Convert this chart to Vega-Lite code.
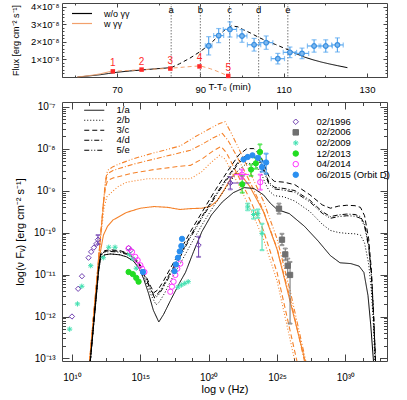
{
"$schema":"https://vega.github.io/schema/vega-lite/v6.json",
"padding":{"left":10,"top":1,"right":0,"bottom":0},
"background":"white",
"bounds":"flush",
"spacing":25,
"resolve":{"scale":{"color":"independent","strokeDash":"independent","fill":"independent","shape":"independent","stroke":"independent"},"legend":{"color":"independent","strokeDash":"independent","fill":"independent","shape":"independent","stroke":"independent"}},
"config":{
 "font":"Liberation Sans",
 "view":{"stroke":"#444","strokeWidth":1},
 "axis":{"grid":false,"domain":false,"labelFont":"Liberation Sans","titleFont":"Liberation Sans","labelFontSize":9.5,"titleFontSize":10.5,"titleFontWeight":"normal","labelColor":"black","titleColor":"black","tickColor":"#444","labelOverlap":false,"labelFlush":false,"labelBound":false},
 "legend":{"labelFont":"Liberation Sans","labelFontSize":9.5,"labelColor":"black","padding":0}
},
"datasets":{
"top_models":[
{"c":"w/o γγ","part":"b1","interp":"fit","T":60.5,"F":0},{"c":"w/o γγ","part":"b1","interp":"fit","T":62,"F":3e-10},{"c":"w/o γγ","part":"b1","interp":"fit","T":64,"F":8e-10},{"c":"w/o γγ","part":"b1","interp":"fit","T":66,"F":1.3e-9},{"c":"w/o γγ","part":"b1","interp":"fit","T":68,"F":2e-9},{"c":"w/o γγ","part":"b1","interp":"fit","T":70,"F":2.7e-9},{"c":"w/o γγ","part":"b1","interp":"fit","T":73,"F":3.4e-9},{"c":"w/o γγ","part":"b1","interp":"fit","T":76,"F":4e-9},{"c":"w/o γγ","part":"b1","interp":"fit","T":79,"F":4.6e-9},{"c":"w/o γγ","part":"b1","interp":"fit","T":83,"F":5.3e-9},
{"c":"w/o γγ","part":"b2","interp":"gap","T":83,"F":5.3e-9},{"c":"w/o γγ","part":"b2","interp":"gap","T":85,"F":7.5e-9},{"c":"w/o γγ","part":"b2","interp":"gap","T":87.5,"F":1.07e-8},{"c":"w/o γγ","part":"b2","interp":"gap","T":90,"F":1.45e-8},{"c":"w/o γγ","part":"b2","interp":"gap","T":92,"F":1.8e-8},{"c":"w/o γγ","part":"b2","interp":"gap","T":94,"F":2.25e-8},{"c":"w/o γγ","part":"b2","interp":"gap","T":96,"F":2.7e-8},{"c":"w/o γγ","part":"b2","interp":"gap","T":97.5,"F":2.9e-8},{"c":"w/o γγ","part":"b2","interp":"gap","T":99,"F":2.85e-8},{"c":"w/o γγ","part":"b2","interp":"gap","T":100,"F":2.72e-8},{"c":"w/o γγ","part":"b2","interp":"gap","T":102,"F":2.5e-8},{"c":"w/o γγ","part":"b2","interp":"gap","T":104,"F":2.25e-8},{"c":"w/o γγ","part":"b2","interp":"gap","T":106,"F":2.03e-8},{"c":"w/o γγ","part":"b2","interp":"gap","T":108,"F":1.85e-8},{"c":"w/o γγ","part":"b2","interp":"gap","T":111,"F":1.55e-8},
{"c":"w/o γγ","part":"b3","interp":"fit","T":111,"F":1.55e-8},{"c":"w/o γγ","part":"b3","interp":"fit","T":113,"F":1.32e-8},{"c":"w/o γγ","part":"b3","interp":"fit","T":115,"F":1.13e-8},{"c":"w/o γγ","part":"b3","interp":"fit","T":117,"F":9.8e-9},{"c":"w/o γγ","part":"b3","interp":"fit","T":119,"F":8.5e-9},{"c":"w/o γγ","part":"b3","interp":"fit","T":121,"F":7.4e-9},{"c":"w/o γγ","part":"b3","interp":"fit","T":123,"F":6.4e-9},{"c":"w/o γγ","part":"b3","interp":"fit","T":125.3,"F":5.3e-9},
{"c":"w γγ","part":"o1","interp":"fit","T":60.5,"F":0},{"c":"w γγ","part":"o1","interp":"fit","T":62,"F":4e-10},{"c":"w γγ","part":"o1","interp":"fit","T":64,"F":1e-9},{"c":"w γγ","part":"o1","interp":"fit","T":66,"F":1.8e-9},{"c":"w γγ","part":"o1","interp":"fit","T":68.5,"F":3.2e-9},
{"c":"w γγ","part":"o2","interp":"gap","T":68.5,"F":3.2e-9},{"c":"w γγ","part":"o2","interp":"gap","T":72,"F":3.6e-9},{"c":"w γγ","part":"o2","interp":"gap","T":76,"F":4.2e-9},{"c":"w γγ","part":"o2","interp":"gap","T":80,"F":4.6e-9},{"c":"w γγ","part":"o2","interp":"gap","T":83,"F":5e-9},{"c":"w γγ","part":"o2","interp":"gap","T":86,"F":5.6e-9},{"c":"w γγ","part":"o2","interp":"gap","T":88,"F":6e-9},{"c":"w γγ","part":"o2","interp":"gap","T":90,"F":6.3e-9},{"c":"w γγ","part":"o2","interp":"gap","T":92.4,"F":4.7e-9},{"c":"w γγ","part":"o2","interp":"gap","T":94,"F":3.3e-9},{"c":"w γγ","part":"o2","interp":"gap","T":96,"F":1.3e-9},{"c":"w γγ","part":"o2","interp":"gap","T":97,"F":2e-10}
],
"top_obs":[
{"T":92.0,"F":1.77e-8,"Flo":1.25e-8,"Fhi":2.29e-8,"Tlo":91.2,"Thi":92.8},
{"T":94.4,"F":2.35e-8,"Flo":1.95e-8,"Fhi":2.75e-8,"Tlo":93.2,"Thi":95.6},
{"T":97.1,"F":2.7e-8,"Flo":2.27e-8,"Fhi":3.13e-8,"Tlo":95.5,"Thi":98.7},
{"T":100.0,"F":2.33e-8,"Flo":1.97e-8,"Fhi":2.69e-8,"Tlo":98.8,"Thi":101.2},
{"T":102.9,"F":1.83e-8,"Flo":1.47e-8,"Fhi":2.19e-8,"Tlo":101.3,"Thi":104.5},
{"T":105.8,"F":1.95e-8,"Flo":1.57e-8,"Fhi":2.33e-8,"Tlo":104.2,"Thi":107.4},
{"T":108.6,"F":1.04e-8,"Flo":7.4e-9,"Fhi":1.34e-8,"Tlo":107.0,"Thi":110.2},
{"T":111.5,"F":1.4e-8,"Flo":1.1e-8,"Fhi":1.7e-8,"Tlo":109.9,"Thi":113.1},
{"T":114.4,"F":1.34e-8,"Flo":1.04e-8,"Fhi":1.64e-8,"Tlo":112.8,"Thi":116.0},
{"T":117.3,"F":1.76e-8,"Flo":1.41e-8,"Fhi":2.11e-8,"Tlo":115.7,"Thi":118.9},
{"T":120.1,"F":1.76e-8,"Flo":1.41e-8,"Fhi":2.11e-8,"Tlo":118.5,"Thi":121.7},
{"T":122.9,"F":1.82e-8,"Flo":1.42e-8,"Fhi":2.22e-8,"Tlo":121.5,"Thi":124.3}
],
"top_red":[
{"n":"1","T":69.0,"F":3.2e-9},{"n":"2","T":75.9,"F":4.2e-9},{"n":"3","T":82.8,"F":4.8e-9},{"n":"4","T":89.8,"F":6.0e-9},{"n":"5","T":96.7,"F":6e-10}
],
"epochs":[
{"id":"a","T":83},{"id":"b","T":90},{"id":"c","T":97},{"id":"d","T":104},{"id":"e","T":111}
],
"sed_obs":[
{"d":"02/1996","lognu":10.0,"logF":-12.0},{"d":"02/1996","lognu":10.45,"logF":-11.34},{"d":"02/1996","lognu":10.73,"logF":-11.04},{"d":"02/1996","lognu":11.21,"logF":-10.6},{"d":"02/1996","lognu":11.4,"logF":-10.46},{"d":"02/1996","lognu":11.6,"logF":-10.36},{"d":"02/1996","lognu":11.78,"logF":-10.27},{"d":"02/1996","lognu":11.9,"logF":-10.17,"lo":-10.28,"hi":-10.06},{"d":"02/1996","lognu":14.14,"logF":-10.37},{"d":"02/1996","lognu":14.3,"logF":-10.42},{"d":"02/1996","lognu":19.26,"logF":-10.3,"lo":-10.58,"hi":-10.1},{"d":"02/1996","lognu":21.58,"logF":-8.82,"lo":-8.97,"hi":-8.68,"xlo":21.58,"xhi":23.0},
{"d":"02/2006","lognu":25.14,"logF":-9.43,"lo":-9.55,"hi":-9.31},{"d":"02/2006","lognu":25.36,"logF":-10.17,"lo":-10.3,"hi":-10.03},{"d":"02/2006","lognu":25.6,"logF":-10.52,"lo":-10.66,"hi":-10.38},{"d":"02/2006","lognu":25.78,"logF":-10.79,"lo":-11.0,"hi":-10.62},{"d":"02/2006","lognu":25.95,"logF":-11.01,"lo":-12.17,"hi":-10.7},
{"d":"02/2009","lognu":9.83,"logF":-12.3},{"d":"02/2009","lognu":10.4,"logF":-11.7},{"d":"02/2009","lognu":10.72,"logF":-11.28},{"d":"02/2009","lognu":11.37,"logF":-10.79},{"d":"02/2009","lognu":12.29,"logF":-10.6},{"d":"02/2009","lognu":12.69,"logF":-10.35},{"d":"02/2009","lognu":13.15,"logF":-10.35},{"d":"02/2009","lognu":14.2,"logF":-10.52},{"d":"02/2009","lognu":14.45,"logF":-10.62},{"d":"02/2009","lognu":14.7,"logF":-10.85},{"d":"02/2009","lognu":17.75,"logF":-11.3},{"d":"02/2009","lognu":18.0,"logF":-11.25},{"d":"02/2009","lognu":18.25,"logF":-11.21},{"d":"02/2009","lognu":18.5,"logF":-11.17},{"d":"02/2009","lognu":22.85,"logF":-9.39,"lo":-9.47,"hi":-9.31},{"d":"02/2009","lognu":23.28,"logF":-9.57,"lo":-9.67,"hi":-9.47},{"d":"02/2009","lognu":23.6,"logF":-9.55,"lo":-9.65,"hi":-9.45},{"d":"02/2009","lognu":23.9,"logF":-10.02,"lo":-10.42,"hi":-9.79},
{"d":"12/2013","lognu":14.14,"logF":-10.94},{"d":"12/2013","lognu":14.45,"logF":-10.99},{"d":"12/2013","lognu":14.7,"logF":-11.08},{"d":"12/2013","lognu":14.87,"logF":-11.17},{"d":"12/2013","lognu":22.45,"logF":-8.85,"lo":-9.05,"hi":-8.65},{"d":"12/2013","lognu":23.1,"logF":-8.5,"lo":-8.65,"hi":-8.38},{"d":"12/2013","lognu":23.45,"logF":-8.35,"lo":-8.48,"hi":-8.22},{"d":"12/2013","lognu":23.75,"logF":-8.08,"lo":-8.25,"hi":-7.9},
{"d":"04/2014","lognu":14.14,"logF":-10.38},{"d":"04/2014","lognu":14.39,"logF":-10.46},{"d":"04/2014","lognu":14.63,"logF":-10.58},{"d":"04/2014","lognu":14.8,"logF":-10.66},{"d":"04/2014","lognu":15.0,"logF":-10.78},{"d":"04/2014","lognu":15.12,"logF":-10.86},{"d":"04/2014","lognu":15.3,"logF":-10.94},{"d":"04/2014","lognu":17.19,"logF":-11.41},{"d":"04/2014","lognu":17.31,"logF":-11.29},{"d":"04/2014","lognu":17.43,"logF":-11.17},{"d":"04/2014","lognu":17.56,"logF":-11.01},{"d":"04/2014","lognu":17.7,"logF":-10.86},{"d":"04/2014","lognu":17.92,"logF":-10.74},{"d":"04/2014","lognu":22.43,"logF":-8.62,"lo":-8.72,"hi":-8.5,"xlo":21.85,"xhi":22.95},{"d":"04/2014","lognu":23.77,"logF":-8.8,"lo":-8.98,"hi":-8.62},
{"d":"06/2015 (Orbit D)","lognu":15.19,"logF":-10.94},{"d":"06/2015 (Orbit D)","lognu":17.5,"logF":-10.92},{"d":"06/2015 (Orbit D)","lognu":17.6,"logF":-10.76},{"d":"06/2015 (Orbit D)","lognu":17.75,"logF":-10.6},{"d":"06/2015 (Orbit D)","lognu":17.88,"logF":-10.45},{"d":"06/2015 (Orbit D)","lognu":18.0,"logF":-10.32},{"d":"06/2015 (Orbit D)","lognu":18.05,"logF":-10.15},{"d":"06/2015 (Orbit D)","lognu":22.55,"logF":-8.26},{"d":"06/2015 (Orbit D)","lognu":22.85,"logF":-8.2},{"d":"06/2015 (Orbit D)","lognu":23.2,"logF":-8.16},{"d":"06/2015 (Orbit D)","lognu":23.6,"logF":-8.22},{"d":"06/2015 (Orbit D)","lognu":23.9,"logF":-8.44,"lo":-8.55,"hi":-8.3},{"d":"06/2015 (Orbit D)","lognu":24.2,"logF":-8.33,"lo":-8.6,"hi":-8.12}
],
"sed_models":[
{"k":"w/o","m":"4/d","lognu":11.34,"logF":-13.06},{"k":"w/o","m":"4/d","lognu":11.7,"logF":-11.75},{"k":"w/o","m":"4/d","lognu":11.95,"logF":-10.85},{"k":"w/o","m":"4/d","lognu":12.1,"logF":-10.52},{"k":"w/o","m":"4/d","lognu":12.4,"logF":-10.45},{"k":"w/o","m":"4/d","lognu":12.8,"logF":-10.43},{"k":"w/o","m":"4/d","lognu":13.5,"logF":-10.45},{"k":"w/o","m":"4/d","lognu":14.0,"logF":-10.5},{"k":"w/o","m":"4/d","lognu":14.5,"logF":-10.6},{"k":"w/o","m":"4/d","lognu":14.9,"logF":-10.75},{"k":"w/o","m":"4/d","lognu":15.24,"logF":-10.98},{"k":"w/o","m":"4/d","lognu":15.5,"logF":-11.15},{"k":"w/o","m":"4/d","lognu":15.75,"logF":-11.35},{"k":"w/o","m":"4/d","lognu":16.05,"logF":-11.52},{"k":"w/o","m":"4/d","lognu":16.3,"logF":-11.45},{"k":"w/o","m":"4/d","lognu":16.7,"logF":-11.25},{"k":"w/o","m":"4/d","lognu":17.2,"logF":-10.95},{"k":"w/o","m":"4/d","lognu":17.8,"logF":-10.6},{"k":"w/o","m":"4/d","lognu":18.66,"logF":-10.08},{"k":"w/o","m":"4/d","lognu":19.5,"logF":-9.62},{"k":"w/o","m":"4/d","lognu":20.5,"logF":-9.1},{"k":"w/o","m":"4/d","lognu":21.5,"logF":-8.62},{"k":"w/o","m":"4/d","lognu":22.2,"logF":-8.3},{"k":"w/o","m":"4/d","lognu":22.8,"logF":-8.15},{"k":"w/o","m":"4/d","lognu":23.3,"logF":-8.15},{"k":"w/o","m":"4/d","lognu":23.8,"logF":-8.32},{"k":"w/o","m":"4/d","lognu":24.1,"logF":-8.55},{"k":"w/o","m":"4/d","lognu":24.4,"logF":-8.8},{"k":"w/o","m":"4/d","lognu":24.8,"logF":-8.92},{"k":"w/o","m":"4/d","lognu":25.5,"logF":-8.95},{"k":"w/o","m":"4/d","lognu":26.3,"logF":-9.0},{"k":"w/o","m":"4/d","lognu":27.4,"logF":-9.23},{"k":"w/o","m":"4/d","lognu":28.3,"logF":-9.5},{"k":"w/o","m":"4/d","lognu":28.9,"logF":-9.62},{"k":"w/o","m":"4/d","lognu":29.5,"logF":-9.58},{"k":"w/o","m":"4/d","lognu":30.1,"logF":-9.56},{"k":"w/o","m":"4/d","lognu":30.7,"logF":-9.57},{"k":"w/o","m":"4/d","lognu":31.1,"logF":-9.62},{"k":"w/o","m":"4/d","lognu":31.4,"logF":-9.8},{"k":"w/o","m":"4/d","lognu":31.7,"logF":-10.3},{"k":"w/o","m":"4/d","lognu":31.9,"logF":-11.0},{"k":"w/o","m":"4/d","lognu":32.05,"logF":-11.9},{"k":"w/o","m":"4/d","lognu":32.2,"logF":-13.06},
{"k":"w/o","m":"5/e","lognu":11.34,"logF":-13.06},{"k":"w/o","m":"5/e","lognu":11.7,"logF":-11.75},{"k":"w/o","m":"5/e","lognu":11.95,"logF":-10.85},{"k":"w/o","m":"5/e","lognu":12.1,"logF":-10.54},{"k":"w/o","m":"5/e","lognu":12.4,"logF":-10.47},{"k":"w/o","m":"5/e","lognu":12.8,"logF":-10.45},{"k":"w/o","m":"5/e","lognu":13.5,"logF":-10.47},{"k":"w/o","m":"5/e","lognu":14.0,"logF":-10.52},{"k":"w/o","m":"5/e","lognu":14.5,"logF":-10.62},{"k":"w/o","m":"5/e","lognu":14.9,"logF":-10.77},{"k":"w/o","m":"5/e","lognu":15.24,"logF":-11.0},{"k":"w/o","m":"5/e","lognu":15.5,"logF":-11.17},{"k":"w/o","m":"5/e","lognu":15.75,"logF":-11.37},{"k":"w/o","m":"5/e","lognu":16.05,"logF":-11.56},{"k":"w/o","m":"5/e","lognu":16.3,"logF":-11.5},{"k":"w/o","m":"5/e","lognu":16.7,"logF":-11.3},{"k":"w/o","m":"5/e","lognu":17.2,"logF":-11.0},{"k":"w/o","m":"5/e","lognu":17.8,"logF":-10.65},{"k":"w/o","m":"5/e","lognu":18.66,"logF":-10.12},{"k":"w/o","m":"5/e","lognu":19.5,"logF":-9.66},{"k":"w/o","m":"5/e","lognu":20.5,"logF":-9.14},{"k":"w/o","m":"5/e","lognu":21.5,"logF":-8.66},{"k":"w/o","m":"5/e","lognu":22.2,"logF":-8.34},{"k":"w/o","m":"5/e","lognu":22.8,"logF":-8.19},{"k":"w/o","m":"5/e","lognu":23.3,"logF":-8.19},{"k":"w/o","m":"5/e","lognu":23.8,"logF":-8.36},{"k":"w/o","m":"5/e","lognu":24.1,"logF":-8.6},{"k":"w/o","m":"5/e","lognu":24.4,"logF":-8.84},{"k":"w/o","m":"5/e","lognu":24.8,"logF":-8.96},{"k":"w/o","m":"5/e","lognu":25.5,"logF":-8.99},{"k":"w/o","m":"5/e","lognu":26.3,"logF":-9.04},{"k":"w/o","m":"5/e","lognu":27.4,"logF":-9.27},{"k":"w/o","m":"5/e","lognu":28.3,"logF":-9.54},{"k":"w/o","m":"5/e","lognu":28.9,"logF":-9.66},{"k":"w/o","m":"5/e","lognu":29.5,"logF":-9.62},{"k":"w/o","m":"5/e","lognu":30.1,"logF":-9.6},{"k":"w/o","m":"5/e","lognu":30.7,"logF":-9.61},{"k":"w/o","m":"5/e","lognu":31.1,"logF":-9.66},{"k":"w/o","m":"5/e","lognu":31.4,"logF":-9.85},{"k":"w/o","m":"5/e","lognu":31.7,"logF":-10.35},{"k":"w/o","m":"5/e","lognu":31.9,"logF":-11.05},{"k":"w/o","m":"5/e","lognu":32.05,"logF":-11.95},{"k":"w/o","m":"5/e","lognu":32.2,"logF":-13.06},
{"k":"w/o","m":"3/c","lognu":11.34,"logF":-13.06},{"k":"w/o","m":"3/c","lognu":11.7,"logF":-11.73},{"k":"w/o","m":"3/c","lognu":11.95,"logF":-10.83},{"k":"w/o","m":"3/c","lognu":12.1,"logF":-10.5},{"k":"w/o","m":"3/c","lognu":12.4,"logF":-10.43},{"k":"w/o","m":"3/c","lognu":12.8,"logF":-10.41},{"k":"w/o","m":"3/c","lognu":13.5,"logF":-10.43},{"k":"w/o","m":"3/c","lognu":14.0,"logF":-10.48},{"k":"w/o","m":"3/c","lognu":14.5,"logF":-10.58},{"k":"w/o","m":"3/c","lognu":14.9,"logF":-10.72},{"k":"w/o","m":"3/c","lognu":15.24,"logF":-10.94},{"k":"w/o","m":"3/c","lognu":15.5,"logF":-11.1},{"k":"w/o","m":"3/c","lognu":15.75,"logF":-11.28},{"k":"w/o","m":"3/c","lognu":16.0,"logF":-11.43},{"k":"w/o","m":"3/c","lognu":16.3,"logF":-11.36},{"k":"w/o","m":"3/c","lognu":16.7,"logF":-11.15},{"k":"w/o","m":"3/c","lognu":17.2,"logF":-10.85},{"k":"w/o","m":"3/c","lognu":17.8,"logF":-10.5},{"k":"w/o","m":"3/c","lognu":18.66,"logF":-9.98},{"k":"w/o","m":"3/c","lognu":19.5,"logF":-9.52},{"k":"w/o","m":"3/c","lognu":20.5,"logF":-8.98},{"k":"w/o","m":"3/c","lognu":21.5,"logF":-8.48},{"k":"w/o","m":"3/c","lognu":22.2,"logF":-8.15},{"k":"w/o","m":"3/c","lognu":22.8,"logF":-8.0},{"k":"w/o","m":"3/c","lognu":23.3,"logF":-8.0},{"k":"w/o","m":"3/c","lognu":23.8,"logF":-8.18},{"k":"w/o","m":"3/c","lognu":24.1,"logF":-8.42},{"k":"w/o","m":"3/c","lognu":24.4,"logF":-8.66},{"k":"w/o","m":"3/c","lognu":24.8,"logF":-8.78},{"k":"w/o","m":"3/c","lognu":25.5,"logF":-8.8},{"k":"w/o","m":"3/c","lognu":26.3,"logF":-8.86},{"k":"w/o","m":"3/c","lognu":27.4,"logF":-9.1},{"k":"w/o","m":"3/c","lognu":28.3,"logF":-9.34},{"k":"w/o","m":"3/c","lognu":28.9,"logF":-9.42},{"k":"w/o","m":"3/c","lognu":29.5,"logF":-9.37},{"k":"w/o","m":"3/c","lognu":30.1,"logF":-9.35},{"k":"w/o","m":"3/c","lognu":30.7,"logF":-9.36},{"k":"w/o","m":"3/c","lognu":31.1,"logF":-9.4},{"k":"w/o","m":"3/c","lognu":31.4,"logF":-9.6},{"k":"w/o","m":"3/c","lognu":31.7,"logF":-10.15},{"k":"w/o","m":"3/c","lognu":31.9,"logF":-10.9},{"k":"w/o","m":"3/c","lognu":32.05,"logF":-11.9},{"k":"w/o","m":"3/c","lognu":32.2,"logF":-13.06},
{"k":"w/o","m":"2/b","lognu":11.34,"logF":-13.06},{"k":"w/o","m":"2/b","lognu":11.7,"logF":-11.8},{"k":"w/o","m":"2/b","lognu":11.95,"logF":-10.92},{"k":"w/o","m":"2/b","lognu":12.1,"logF":-10.6},{"k":"w/o","m":"2/b","lognu":12.4,"logF":-10.53},{"k":"w/o","m":"2/b","lognu":12.8,"logF":-10.51},{"k":"w/o","m":"2/b","lognu":13.5,"logF":-10.53},{"k":"w/o","m":"2/b","lognu":14.0,"logF":-10.58},{"k":"w/o","m":"2/b","lognu":14.5,"logF":-10.68},{"k":"w/o","m":"2/b","lognu":14.9,"logF":-10.83},{"k":"w/o","m":"2/b","lognu":15.24,"logF":-11.06},{"k":"w/o","m":"2/b","lognu":15.5,"logF":-11.25},{"k":"w/o","m":"2/b","lognu":15.8,"logF":-11.5},{"k":"w/o","m":"2/b","lognu":16.15,"logF":-11.72},{"k":"w/o","m":"2/b","lognu":16.4,"logF":-11.65},{"k":"w/o","m":"2/b","lognu":16.8,"logF":-11.43},{"k":"w/o","m":"2/b","lognu":17.3,"logF":-11.1},{"k":"w/o","m":"2/b","lognu":17.9,"logF":-10.75},{"k":"w/o","m":"2/b","lognu":18.66,"logF":-10.3},{"k":"w/o","m":"2/b","lognu":19.5,"logF":-9.82},{"k":"w/o","m":"2/b","lognu":20.5,"logF":-9.3},{"k":"w/o","m":"2/b","lognu":21.5,"logF":-8.82},{"k":"w/o","m":"2/b","lognu":22.2,"logF":-8.5},{"k":"w/o","m":"2/b","lognu":22.8,"logF":-8.35},{"k":"w/o","m":"2/b","lognu":23.3,"logF":-8.36},{"k":"w/o","m":"2/b","lognu":23.8,"logF":-8.55},{"k":"w/o","m":"2/b","lognu":24.1,"logF":-8.8},{"k":"w/o","m":"2/b","lognu":24.4,"logF":-9.0},{"k":"w/o","m":"2/b","lognu":24.8,"logF":-9.12},{"k":"w/o","m":"2/b","lognu":25.5,"logF":-9.15},{"k":"w/o","m":"2/b","lognu":26.3,"logF":-9.25},{"k":"w/o","m":"2/b","lognu":27.4,"logF":-9.5},{"k":"w/o","m":"2/b","lognu":28.3,"logF":-9.8},{"k":"w/o","m":"2/b","lognu":28.9,"logF":-9.95},{"k":"w/o","m":"2/b","lognu":29.5,"logF":-10.0},{"k":"w/o","m":"2/b","lognu":30.1,"logF":-10.02},{"k":"w/o","m":"2/b","lognu":30.7,"logF":-10.03},{"k":"w/o","m":"2/b","lognu":31.1,"logF":-10.06},{"k":"w/o","m":"2/b","lognu":31.4,"logF":-10.25},{"k":"w/o","m":"2/b","lognu":31.7,"logF":-10.75},{"k":"w/o","m":"2/b","lognu":31.9,"logF":-11.4},{"k":"w/o","m":"2/b","lognu":32.05,"logF":-12.2},{"k":"w/o","m":"2/b","lognu":32.15,"logF":-13.06},
{"k":"w/o","m":"1/a","lognu":11.34,"logF":-13.06},{"k":"w/o","m":"1/a","lognu":11.7,"logF":-11.8},{"k":"w/o","m":"1/a","lognu":11.95,"logF":-10.92},{"k":"w/o","m":"1/a","lognu":12.1,"logF":-10.6},{"k":"w/o","m":"1/a","lognu":12.4,"logF":-10.53},{"k":"w/o","m":"1/a","lognu":12.8,"logF":-10.51},{"k":"w/o","m":"1/a","lognu":13.5,"logF":-10.53},{"k":"w/o","m":"1/a","lognu":14.0,"logF":-10.58},{"k":"w/o","m":"1/a","lognu":14.5,"logF":-10.68},{"k":"w/o","m":"1/a","lognu":14.9,"logF":-10.85},{"k":"w/o","m":"1/a","lognu":15.24,"logF":-11.1},{"k":"w/o","m":"1/a","lognu":15.6,"logF":-11.45},{"k":"w/o","m":"1/a","lognu":15.95,"logF":-11.85},{"k":"w/o","m":"1/a","lognu":16.35,"logF":-12.13},{"k":"w/o","m":"1/a","lognu":16.7,"logF":-11.95},{"k":"w/o","m":"1/a","lognu":17.2,"logF":-11.62},{"k":"w/o","m":"1/a","lognu":17.9,"logF":-11.18},{"k":"w/o","m":"1/a","lognu":18.3,"logF":-10.95},{"k":"w/o","m":"1/a","lognu":18.9,"logF":-10.45},{"k":"w/o","m":"1/a","lognu":19.5,"logF":-9.98},{"k":"w/o","m":"1/a","lognu":20.2,"logF":-9.58},{"k":"w/o","m":"1/a","lognu":21.0,"logF":-9.27},{"k":"w/o","m":"1/a","lognu":21.8,"logF":-9.05},{"k":"w/o","m":"1/a","lognu":22.6,"logF":-8.93},{"k":"w/o","m":"1/a","lognu":23.3,"logF":-8.95},{"k":"w/o","m":"1/a","lognu":24.0,"logF":-9.1},{"k":"w/o","m":"1/a","lognu":24.5,"logF":-9.3},{"k":"w/o","m":"1/a","lognu":25.0,"logF":-9.45},{"k":"w/o","m":"1/a","lognu":25.9,"logF":-9.55},{"k":"w/o","m":"1/a","lognu":27.0,"logF":-9.85},{"k":"w/o","m":"1/a","lognu":28.0,"logF":-10.2},{"k":"w/o","m":"1/a","lognu":28.9,"logF":-10.55},{"k":"w/o","m":"1/a","lognu":29.6,"logF":-10.72},{"k":"w/o","m":"1/a","lognu":30.4,"logF":-10.74},{"k":"w/o","m":"1/a","lognu":31.0,"logF":-10.8},{"k":"w/o","m":"1/a","lognu":31.35,"logF":-10.95},{"k":"w/o","m":"1/a","lognu":31.65,"logF":-11.5},{"k":"w/o","m":"1/a","lognu":31.85,"logF":-12.2},{"k":"w/o","m":"1/a","lognu":32.05,"logF":-13.06},
{"k":"w","m":"5/e","lognu":11.29,"logF":-13.06},{"k":"w","m":"5/e","lognu":12.07,"logF":-10.16},{"k":"w","m":"5/e","lognu":12.3,"logF":-9.3},{"k":"w","m":"5/e","lognu":12.45,"logF":-8.75},{"k":"w","m":"5/e","lognu":12.6,"logF":-8.52},{"k":"w","m":"5/e","lognu":13.0,"logF":-8.43},{"k":"w","m":"5/e","lognu":13.5,"logF":-8.36},{"k":"w","m":"5/e","lognu":14.5,"logF":-8.24},{"k":"w","m":"5/e","lognu":16.0,"logF":-8.1},{"k":"w","m":"5/e","lognu":17.9,"logF":-7.94},{"k":"w","m":"5/e","lognu":19.0,"logF":-7.72},{"k":"w","m":"5/e","lognu":20.1,"logF":-7.52},{"k":"w","m":"5/e","lognu":20.8,"logF":-7.4},{"k":"w","m":"5/e","lognu":21.2,"logF":-7.36},{"k":"w","m":"5/e","lognu":21.6,"logF":-7.6},{"k":"w","m":"5/e","lognu":22.2,"logF":-8.0},{"k":"w","m":"5/e","lognu":23.0,"logF":-8.55},{"k":"w","m":"5/e","lognu":24.0,"logF":-9.25},{"k":"w","m":"5/e","lognu":25.0,"logF":-10.15},{"k":"w","m":"5/e","lognu":26.0,"logF":-11.45},{"k":"w","m":"5/e","lognu":27.1,"logF":-13.06},
{"k":"w","m":"4/d","lognu":11.29,"logF":-13.06},{"k":"w","m":"4/d","lognu":12.07,"logF":-10.16},{"k":"w","m":"4/d","lognu":12.3,"logF":-9.3},{"k":"w","m":"4/d","lognu":12.45,"logF":-8.8},{"k":"w","m":"4/d","lognu":12.6,"logF":-8.6},{"k":"w","m":"4/d","lognu":13.0,"logF":-8.52},{"k":"w","m":"4/d","lognu":13.5,"logF":-8.47},{"k":"w","m":"4/d","lognu":14.5,"logF":-8.37},{"k":"w","m":"4/d","lognu":16.0,"logF":-8.25},{"k":"w","m":"4/d","lognu":17.9,"logF":-8.1},{"k":"w","m":"4/d","lognu":18.66,"logF":-8.04},{"k":"w","m":"4/d","lognu":19.5,"logF":-7.9},{"k":"w","m":"4/d","lognu":20.3,"logF":-7.75},{"k":"w","m":"4/d","lognu":21.0,"logF":-7.64},{"k":"w","m":"4/d","lognu":21.4,"logF":-7.8},{"k":"w","m":"4/d","lognu":22.0,"logF":-8.15},{"k":"w","m":"4/d","lognu":23.0,"logF":-8.78},{"k":"w","m":"4/d","lognu":24.0,"logF":-9.48},{"k":"w","m":"4/d","lognu":25.0,"logF":-10.38},{"k":"w","m":"4/d","lognu":26.0,"logF":-11.62},{"k":"w","m":"4/d","lognu":27.0,"logF":-13.06},
{"k":"w","m":"3/c","lognu":11.29,"logF":-13.06},{"k":"w","m":"3/c","lognu":12.07,"logF":-10.16},{"k":"w","m":"3/c","lognu":12.3,"logF":-9.3},{"k":"w","m":"3/c","lognu":12.45,"logF":-8.92},{"k":"w","m":"3/c","lognu":12.6,"logF":-8.76},{"k":"w","m":"3/c","lognu":13.0,"logF":-8.7},{"k":"w","m":"3/c","lognu":14.5,"logF":-8.58},{"k":"w","m":"3/c","lognu":16.0,"logF":-8.5},{"k":"w","m":"3/c","lognu":17.9,"logF":-8.42},{"k":"w","m":"3/c","lognu":18.66,"logF":-8.4},{"k":"w","m":"3/c","lognu":19.5,"logF":-8.25},{"k":"w","m":"3/c","lognu":20.3,"logF":-8.06},{"k":"w","m":"3/c","lognu":20.9,"logF":-7.95},{"k":"w","m":"3/c","lognu":21.3,"logF":-8.1},{"k":"w","m":"3/c","lognu":22.0,"logF":-8.55},{"k":"w","m":"3/c","lognu":23.0,"logF":-9.2},{"k":"w","m":"3/c","lognu":24.0,"logF":-9.95},{"k":"w","m":"3/c","lognu":25.0,"logF":-10.95},{"k":"w","m":"3/c","lognu":26.45,"logF":-13.06},
{"k":"w","m":"2/b","lognu":11.29,"logF":-13.06},{"k":"w","m":"2/b","lognu":12.07,"logF":-10.2},{"k":"w","m":"2/b","lognu":12.35,"logF":-9.4},{"k":"w","m":"2/b","lognu":12.55,"logF":-9.15},{"k":"w","m":"2/b","lognu":12.8,"logF":-9.07},{"k":"w","m":"2/b","lognu":13.4,"logF":-8.9},{"k":"w","m":"2/b","lognu":14.0,"logF":-8.8},{"k":"w","m":"2/b","lognu":15.5,"logF":-8.72},{"k":"w","m":"2/b","lognu":17.0,"logF":-8.72},{"k":"w","m":"2/b","lognu":18.66,"logF":-8.72},{"k":"w","m":"2/b","lognu":19.5,"logF":-8.55},{"k":"w","m":"2/b","lognu":20.1,"logF":-8.35},{"k":"w","m":"2/b","lognu":20.8,"logF":-8.16},{"k":"w","m":"2/b","lognu":21.2,"logF":-8.25},{"k":"w","m":"2/b","lognu":22.0,"logF":-8.75},{"k":"w","m":"2/b","lognu":23.0,"logF":-9.4},{"k":"w","m":"2/b","lognu":24.0,"logF":-10.15},{"k":"w","m":"2/b","lognu":25.0,"logF":-11.15},{"k":"w","m":"2/b","lognu":26.3,"logF":-13.06},
{"k":"w","m":"1/a","lognu":11.29,"logF":-13.06},{"k":"w","m":"1/a","lognu":11.7,"logF":-11.6},{"k":"w","m":"1/a","lognu":12.0,"logF":-10.6},{"k":"w","m":"1/a","lognu":12.3,"logF":-10.06},{"k":"w","m":"1/a","lognu":12.6,"logF":-9.85},{"k":"w","m":"1/a","lognu":13.0,"logF":-9.7},{"k":"w","m":"1/a","lognu":14.0,"logF":-9.52},{"k":"w","m":"1/a","lognu":15.0,"logF":-9.42},{"k":"w","m":"1/a","lognu":16.0,"logF":-9.38},{"k":"w","m":"1/a","lognu":17.0,"logF":-9.4},{"k":"w","m":"1/a","lognu":17.9,"logF":-9.45},{"k":"w","m":"1/a","lognu":18.66,"logF":-9.43},{"k":"w","m":"1/a","lognu":19.5,"logF":-9.42},{"k":"w","m":"1/a","lognu":20.1,"logF":-9.38},{"k":"w","m":"1/a","lognu":20.6,"logF":-9.25},{"k":"w","m":"1/a","lognu":21.1,"logF":-9.0},{"k":"w","m":"1/a","lognu":21.6,"logF":-8.72},{"k":"w","m":"1/a","lognu":21.95,"logF":-8.58},{"k":"w","m":"1/a","lognu":22.3,"logF":-8.6},{"k":"w","m":"1/a","lognu":23.0,"logF":-8.9},{"k":"w","m":"1/a","lognu":24.0,"logF":-9.5},{"k":"w","m":"1/a","lognu":25.0,"logF":-10.4},{"k":"w","m":"1/a","lognu":26.0,"logF":-11.7},{"k":"w","m":"1/a","lognu":27.05,"logF":-13.06}
]
},
"vconcat":[
{
 "width":325,"height":74,
 "layer":[
  {"data":{"name":"epochs"},"mark":{"type":"rule","color":"#777","strokeDash":[1.5,1.5],"strokeWidth":1},
   "encoding":{"x":{"field":"T","type":"quantitative","scale":{"domain":[56.8,134.8],"nice":false,"zero":false},"axis":null}}},
  {"data":{"name":"epochs"},"mark":{"type":"text","fontSize":9.5,"color":"black","baseline":"middle"},
   "encoding":{"x":{"field":"T","type":"quantitative","axis":null},"y":{"datum":3.78e-8,"type":"quantitative","axis":null},"text":{"field":"id"}}},
  {"data":{"name":"top_models"},"mark":{"type":"line","strokeWidth":1},
   "encoding":{
    "x":{"field":"T","type":"quantitative","scale":{"domain":[56.8,134.8],"nice":false,"zero":false},
      "axis":{"orient":"bottom","values":[60,70,80,90,100,110,120,130],"labelExpr":"(datum.value-70)%20==0 ? datum.label : ''","tickSize":{"condition":{"test":"(datum.value-70)%20==0","value":-4},"value":-2},"labelPadding":11,"title":"T-T₀ (min)","titleX":146,"titleY":9,"titleAlign":"left","titleBaseline":"middle","titleFontSize":9.5}},
    "y":{"field":"F","type":"quantitative","scale":{"domain":[0,4.2e-8],"nice":false,"zero":false},
      "axis":{"orient":"left","values":[0,2e-9,4e-9,6e-9,8e-9,1e-8,1.2e-8,1.4e-8,1.6e-8,1.8e-8,2e-8,2.2e-8,2.4e-8,2.6e-8,2.8e-8,3e-8,3.2e-8,3.4e-8,3.6e-8,3.8e-8,4e-8],"labelExpr":"(abs(datum.value*1e8-round(datum.value*1e8))<0.01 && round(datum.value*1e8)>0) ? (round(datum.value*1e8)+'×10⁻⁸') : ''","tickSize":{"condition":{"test":"abs(datum.value*1e8-round(datum.value*1e8))<0.01","value":-4},"value":-2},"labelPadding":7,"title":"Flux [erg cm⁻² s⁻¹]","titleX":-47,"titleY":37,"titleAngle":-90,"titleAlign":"center","titleBaseline":"middle","titleFontSize":9}},
    "color":{"field":"c","type":"nominal","scale":{"domain":["w/o γγ","w γγ"],"range":["black","#f2a06c"]},
      "legend":{"title":null,"orient":"none","legendX":15.5,"legendY":6,"symbolType":"M-4,0L4,0","symbolSize":25,"symbolStrokeWidth":1.2,"labelOffset":17.5,"rowPadding":0,"labelFontSize":9}},
    "strokeDash":{"field":"interp","type":"nominal","scale":{"domain":["fit","gap"],"range":[[1,0],[4,3]]},"legend":null},
    "detail":{"field":"part","type":"nominal"}}},
  {"data":{"name":"top_obs"},"mark":{"type":"rule","color":"#5aa8ef","strokeWidth":1.2},
   "encoding":{"x":{"field":"T","type":"quantitative","axis":null},"y":{"field":"Flo","type":"quantitative","axis":null},"y2":{"field":"Fhi"}}},
  {"data":{"name":"top_obs"},"mark":{"type":"rule","color":"#5aa8ef","strokeWidth":1.2},
   "encoding":{"x":{"field":"Tlo","type":"quantitative","axis":null},"x2":{"field":"Thi"},"y":{"field":"F","type":"quantitative","axis":null}}},
  {"data":{"name":"top_obs"},"mark":{"type":"tick","orient":"horizontal","color":"#5aa8ef","size":5,"thickness":1.2},
   "encoding":{"x":{"field":"T","type":"quantitative","axis":null},"y":{"field":"Flo","type":"quantitative","axis":null}}},
  {"data":{"name":"top_obs"},"mark":{"type":"tick","orient":"horizontal","color":"#5aa8ef","size":5,"thickness":1.2},
   "encoding":{"x":{"field":"T","type":"quantitative","axis":null},"y":{"field":"Fhi","type":"quantitative","axis":null}}},
  {"data":{"name":"top_obs"},"mark":{"type":"tick","orient":"vertical","color":"#5aa8ef","size":5,"thickness":1.2},
   "encoding":{"x":{"field":"Tlo","type":"quantitative","axis":null},"y":{"field":"F","type":"quantitative","axis":null}}},
  {"data":{"name":"top_obs"},"mark":{"type":"tick","orient":"vertical","color":"#5aa8ef","size":5,"thickness":1.2},
   "encoding":{"x":{"field":"Thi","type":"quantitative","axis":null},"y":{"field":"F","type":"quantitative","axis":null}}},
  {"data":{"name":"top_obs"},"mark":{"type":"point","shape":"circle","filled":true,"fill":"#7db9f0","stroke":"#3a8fe0","strokeWidth":1.2,"size":22,"opacity":1},
   "encoding":{"x":{"field":"T","type":"quantitative","axis":{"orient":"top","values":[60,70,80,90,100,110,120,130],"labels":false,"title":null,"tickSize":{"condition":{"test":"(datum.value-70)%20==0","value":-4},"value":-2}}},
    "y":{"field":"F","type":"quantitative","axis":{"orient":"right","values":[0,2e-9,4e-9,6e-9,8e-9,1e-8,1.2e-8,1.4e-8,1.6e-8,1.8e-8,2e-8,2.2e-8,2.4e-8,2.6e-8,2.8e-8,3e-8,3.2e-8,3.4e-8,3.6e-8,3.8e-8,4e-8],"labels":false,"title":null,"tickSize":{"condition":{"test":"abs(datum.value*1e8-round(datum.value*1e8))<0.01","value":-4},"value":-2}}}}},
  {"data":{"name":"top_red"},"mark":{"type":"point","shape":"square","filled":true,"color":"#ff2a2a","size":20,"opacity":1},
   "encoding":{"x":{"field":"T","type":"quantitative","axis":null},"y":{"field":"F","type":"quantitative","axis":null}}},
  {"data":{"name":"top_red"},"mark":{"type":"text","color":"#ff2a2a","fontSize":10,"dy":-8,"baseline":"middle"},
   "encoding":{"x":{"field":"T","type":"quantitative","axis":null},"y":{"field":"F","type":"quantitative","axis":null},"text":{"field":"n"}}}
 ],
 "resolve":{"axis":{"x":"independent","y":"independent"}}
},
{
 "width":325,"height":259,
 "layer":[
  {"data":{"name":"sed_models"},"transform":[{"filter":"datum.k=='w'"}],"mark":{"type":"line","color":"#f5822a","strokeWidth":1.1},
   "encoding":{
    "x":{"field":"lognu","type":"quantitative","scale":{"domain":[9.27,33.04],"nice":false,"zero":false},
      "axis":{"orient":"top","values":[10,11.25,12.5,13.75,15,16.25,17.5,18.75,20,21.25,22.5,23.75,25,26.25,27.5,28.75,30,31.25,32.5],"labels":false,"title":null,"tickSize":{"condition":{"test":"datum.value % 5 == 0","value":-7},"value":-3.5}}},
    "y":{"field":"logF","type":"quantitative","scale":{"domain":[-13.06,-6.89],"nice":false,"zero":false},
      "axis":{"orient":"right","values":[-13,-12.699,-12.523,-12.398,-12.301,-12.222,-12.155,-12.097,-12.046,-12,-11.699,-11.523,-11.398,-11.301,-11.222,-11.155,-11.097,-11.046,-11,-10.699,-10.523,-10.398,-10.301,-10.222,-10.155,-10.097,-10.046,-10,-9.699,-9.523,-9.398,-9.301,-9.222,-9.155,-9.097,-9.046,-9,-8.699,-8.523,-8.398,-8.301,-8.222,-8.155,-8.097,-8.046,-8,-7.699,-7.523,-7.398,-7.301,-7.222,-7.155,-7.097,-7.046,-7],"labels":false,"title":null,"tickSize":{"condition":{"test":"datum.value == round(datum.value)","value":-7},"value":-3.5}}},
    "strokeDash":{"field":"m","type":"nominal","scale":{"domain":["1/a","2/b","3/c","4/d","5/e"],"range":[[1,0],[1,2],[5,3],[5,2,1,2],[5,2,1,2,1,2]]},
      "legend":{"title":null,"orient":"none","legendX":27.5,"legendY":3.5,"symbolType":"M-4,0L4,0","symbolSize":25,"symbolStrokeColor":"black","symbolStrokeWidth":1,"labelOffset":17.5,"rowPadding":-1.2}}}},
  {"data":{"name":"sed_models"},"transform":[{"filter":"datum.k=='w/o'"}],"mark":{"type":"line","color":"black","strokeWidth":1},
   "encoding":{
    "x":{"field":"lognu","type":"quantitative","scale":{"domain":[9.27,33.04],"nice":false,"zero":false},
      "axis":{"orient":"bottom","values":[10,11.25,12.5,13.75,15,16.25,17.5,18.75,20,21.25,22.5,23.75,25,26.25,27.5,28.75,30,31.25,32.5],"labelExpr":"datum.value==10?'10¹⁰':datum.value==15?'10¹⁵':datum.value==20?'10²⁰':datum.value==25?'10²⁵':datum.value==30?'10³⁰':''","tickSize":{"condition":{"test":"datum.value % 5 == 0","value":-7},"value":-3.5},"labelPadding":18,"labelFontSize":10,"title":"log ν (Hz)","titleY":28,"titleBaseline":"middle","titleFontSize":11}},
    "y":{"field":"logF","type":"quantitative","scale":{"domain":[-13.06,-6.89],"nice":false,"zero":false},
      "axis":{"orient":"left","values":[-13,-12.699,-12.523,-12.398,-12.301,-12.222,-12.155,-12.097,-12.046,-12,-11.699,-11.523,-11.398,-11.301,-11.222,-11.155,-11.097,-11.046,-11,-10.699,-10.523,-10.398,-10.301,-10.222,-10.155,-10.097,-10.046,-10,-9.699,-9.523,-9.398,-9.301,-9.222,-9.155,-9.097,-9.046,-9,-8.699,-8.523,-8.398,-8.301,-8.222,-8.155,-8.097,-8.046,-8,-7.699,-7.523,-7.398,-7.301,-7.222,-7.155,-7.097,-7.046,-7],"labelExpr":"datum.value==-7?'10⁻⁷':datum.value==-8?'10⁻⁸':datum.value==-9?'10⁻⁹':datum.value==-10?'10⁻¹⁰':datum.value==-11?'10⁻¹¹':datum.value==-12?'10⁻¹²':datum.value==-13?'10⁻¹³':''","tickSize":{"condition":{"test":"datum.value == round(datum.value)","value":-7},"value":-3.5},"labelPadding":14,"labelFontSize":10,"title":"log(ν Fᵥ) [erg cm⁻² s⁻¹]","titleX":-42,"titleY":129.5,"titleAngle":-90,"titleAlign":"center","titleBaseline":"middle","titleFontSize":11}},
    "strokeDash":{"field":"m","type":"nominal","scale":{"domain":["1/a","2/b","3/c","4/d","5/e"],"range":[[1,0],[1,2],[5,3],[5,2,1,2],[5,2,1,2,1,2]]},
      "legend":{"title":null,"orient":"none","legendX":27.5,"legendY":3.5,"symbolType":"M-4,0L4,0","symbolSize":25,"symbolStrokeColor":"black","symbolStrokeWidth":1,"labelOffset":17.5,"rowPadding":-1.2}}}},
  {"data":{"name":"sed_obs"},"mark":{"type":"rule","strokeWidth":1},
   "encoding":{"x":{"field":"lognu","type":"quantitative","axis":null},"y":{"field":"lo","type":"quantitative","axis":null},"y2":{"field":"hi"},
    "stroke":{"field":"d","type":"nominal","scale":{"range":["#7040b0","#707070","#40e0b0","#ff33ff","#2a8ff0","#22dd22"]},"legend":null}}},
  {"data":{"name":"sed_obs"},"mark":{"type":"tick","orient":"horizontal","size":4,"thickness":1,"filled":false},
   "encoding":{"x":{"field":"lognu","type":"quantitative","axis":null},"y":{"field":"lo","type":"quantitative","axis":null},
    "stroke":{"field":"d","type":"nominal","legend":null}}},
  {"data":{"name":"sed_obs"},"mark":{"type":"tick","orient":"horizontal","size":4,"thickness":1,"filled":false},
   "encoding":{"x":{"field":"lognu","type":"quantitative","axis":null},"y":{"field":"hi","type":"quantitative","axis":null},
    "stroke":{"field":"d","type":"nominal","legend":null}}},
  {"data":{"name":"sed_obs"},"mark":{"type":"rule","strokeWidth":1},
   "encoding":{"x":{"field":"xlo","type":"quantitative","axis":null},"x2":{"field":"xhi"},"y":{"field":"logF","type":"quantitative","axis":null},
    "stroke":{"field":"d","type":"nominal","legend":null}}},
  {"data":{"name":"sed_obs"},"mark":{"type":"point","strokeWidth":1,"size":28,"opacity":1},
   "encoding":{"x":{"field":"lognu","type":"quantitative","axis":null},"y":{"field":"logF","type":"quantitative","axis":null},
    "color":{"field":"d","type":"nominal","scale":{"domain":["02/1996","02/2006","02/2009","12/2013","04/2014","06/2015 (Orbit D)"],"range":["#7040b0","#707070","#40e0b0","#22dd22","#ff33ff","#2a8ff0"]},
      "legend":{"title":null,"orient":"none","legendX":229,"legendY":15,"symbolSize":30,"labelOffset":16,"rowPadding":-0.4,"symbolStrokeWidth":1}},
    "fill":{"field":"d","type":"nominal","scale":{"domain":["02/1996","02/2006","02/2009","12/2013","04/2014","06/2015 (Orbit D)"],"range":["transparent","#707070","transparent","#22dd22","transparent","#2a8ff0"]},
      "legend":{"title":null,"orient":"none","legendX":229,"legendY":15,"symbolSize":30,"labelOffset":16,"rowPadding":-0.4,"symbolStrokeWidth":1}},
    "shape":{"field":"d","type":"nominal","scale":{"domain":["02/1996","02/2006","02/2009","12/2013","04/2014","06/2015 (Orbit D)"],"range":["diamond","square","M-1,0L1,0M0,-1L0,1M-0.7,-0.7L0.7,0.7M-0.7,0.7L0.7,-0.7","circle","circle","circle"]},
      "legend":{"title":null,"orient":"none","legendX":229,"legendY":15,"symbolSize":30,"labelOffset":16,"rowPadding":-0.4,"symbolStrokeWidth":1}}}}
 ],
 "resolve":{"axis":{"x":"independent","y":"independent"}}
}
]
}
